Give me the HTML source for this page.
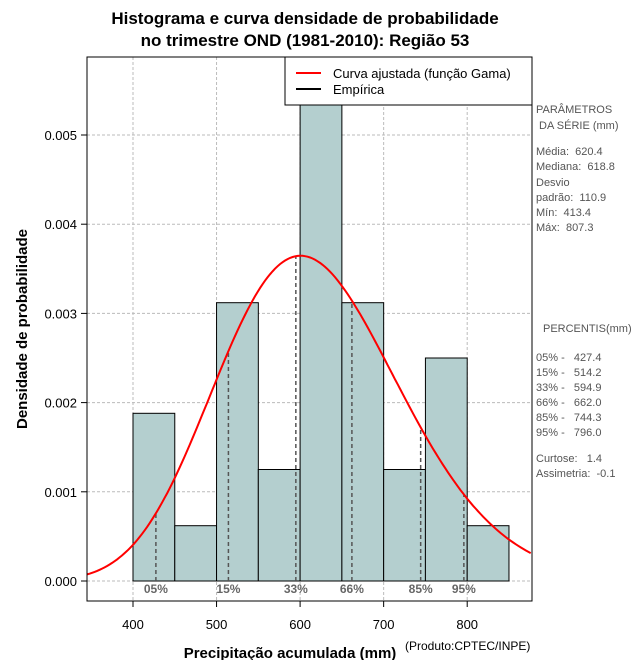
<!DOCTYPE html>
<html><head><meta charset="utf-8"><style>
body{margin:0;background:#fff}
svg{display:block;font-family:"Liberation Sans",sans-serif}
svg text{white-space:pre}
</style></head><body>
<svg id="c" width="640" height="660" xmlns="http://www.w3.org/2000/svg">
<text x="305" y="24" font-size="17" font-weight="bold" text-anchor="middle">Histograma e curva densidade de probabilidade</text>
<text x="305" y="46" font-size="17" font-weight="bold" text-anchor="middle">no trimestre OND (1981-2010): Região 53</text>
<g id="grid"></g><g id="bars"></g><g id="pct"></g><g id="curve"></g><g id="axes"></g>
<rect x="87" y="57" width="445" height="544" fill="none" stroke="#000"/>
<g>
<rect x="285" y="57" width="247" height="48" fill="#fff" stroke="#000"/>
<line x1="296" y1="73" x2="321" y2="73" stroke="red" stroke-width="2"/>
<text x="333" y="78" font-size="13">Curva ajustada (função Gama)</text>
<line x1="296" y1="89" x2="321" y2="89" stroke="#000" stroke-width="2"/>
<text x="333" y="94" font-size="13">Empírica</text>
</g>
<g font-size="11" fill="#555">
<text x="536" y="113">PARÂMETROS</text><text x="536" y="129"> DA SÉRIE (mm)</text>
<text x="536" y="155">Média:  620.4</text><text x="536" y="170">Mediana:  618.8</text>
<text x="536" y="186">Desvio</text><text x="536" y="201">padrão:  110.9</text>
<text x="536" y="216">Mín:  413.4</text><text x="536" y="231">Máx:  807.3</text>
<text x="543" y="332">PERCENTIS(mm)</text>
<text x="536" y="361">05% -   427.4</text><text x="536" y="376">15% -   514.2</text>
<text x="536" y="391">33% -   594.9</text><text x="536" y="406">66% -   662.0</text>
<text x="536" y="421">85% -   744.3</text><text x="536" y="436">95% -   796.0</text>
<text x="536" y="462">Curtose:   1.4</text><text x="536" y="477">Assimetria:  -0.1</text>
</g>
<text x="290" y="658" font-size="15" font-weight="bold" text-anchor="middle">Precipitação acumulada (mm)</text>
<text x="405" y="650" font-size="12">(Produto:CPTEC/INPE)</text>
<text transform="translate(27,329) rotate(-90)" font-size="15" font-weight="bold" text-anchor="middle">Densidade de probabilidade</text>
</svg>
<script>
const binStarts=[400,450,500,550,600,650,700,750,800];
const binDensity=[0.00188,0.00062,0.00312,0.00125,0.00625,0.00312,0.00125,0.0025,0.00062];
const xTicks=[400,500,600,700,800];
const yTicks=[0,0.001,0.002,0.003,0.004,0.005];
const pctValues=[427.4,514.2,594.9,662.0,744.3,796.0];
const pctLabels=["05%","15%","33%","66%","85%","95%"];
const gammaMean=620.4, gammaSd=110.9;
const NS="http://www.w3.org/2000/svg";
const X=v=>133+(v-400)*0.8355, Y=v=>581-v*89200;
const L=87,R=532,T=57,B=601;
function mk(t,a,p){const e=document.createElementNS(NS,t);for(const k in a)e.setAttribute(k,a[k]);p.appendChild(e);return e;}
const g=document.getElementById('grid'),ax=document.getElementById('axes');
xTicks.forEach(v=>{const l=mk('line',{x1:X(v),x2:X(v),y1:T,y2:B,stroke:'#bbb','stroke-dasharray':'3,2'},g);

mk('line',{x1:X(v),x2:X(v),y1:B,y2:B+6,stroke:'#000'},ax);
const t=mk('text',{x:X(v),y:629,'font-size':13,'text-anchor':'middle'},ax);t.textContent=v;
});
yTicks.forEach(v=>{const l=mk('line',{x1:L,x2:R,y1:Y(v),y2:Y(v),stroke:'#bbb','stroke-dasharray':'3,2'},g);

mk('line',{x1:L-6,x2:L,y1:Y(v),y2:Y(v),stroke:'#000'},ax);
const t=mk('text',{x:L-10,y:Y(v)+5,'font-size':13,'text-anchor':'end'},ax);t.textContent=v.toFixed(3);
});
const bg=document.getElementById('bars');
binStarts.forEach((s,i)=>{const top=Math.max(T,Y(binDensity[i]));
const r=mk('rect',{x:X(s),y:top,width:X(s+50)-X(s),height:Y(0)-top,fill:'#b4cfcf',stroke:'#000'},bg);
});
mk('line',{x1:X(400),x2:X(850),y1:Y(0),y2:Y(0),stroke:'#000','stroke-dasharray':'1,2'},bg);
const k=(gammaMean/gammaSd)**2, th=gammaSd*gammaSd/gammaMean;
function lgam(z){const c=[76.18009172947146,-86.50532032941677,24.01409824083091,-1.231739572450155,0.1208650973866179e-2,-0.5395239384953e-5];let x=z,y=z,t=x+5.5;t-=(x+0.5)*Math.log(t);let s=1.000000000190015;for(const q of c)s+=q/++y;return -t+Math.log(2.5066282746310005*s/x);}
const pdf=x=>Math.exp((k-1)*Math.log(x)-x/th-k*Math.log(th)-lgam(k));
const pg=document.getElementById('pct');
pctValues.forEach((v,i)=>{const l=mk('line',{x1:X(v),x2:X(v),y1:Y(0),y2:Y(pdf(v)),stroke:'#555','stroke-width':1.5,'stroke-dasharray':'4,3'},pg);

const t=mk('text',{x:X(v),y:593,'font-size':12,'font-weight':'bold',fill:'#666','text-anchor':'middle'},pg);
t.textContent=pctLabels[i];});
let d='';for(let x=345;x<=878;x+=3){d+=(d?'L':'M')+X(x).toFixed(1)+','+Y(pdf(x)).toFixed(1);}
const p=mk('path',{d:d,fill:'none',stroke:'red','stroke-width':2},document.getElementById('curve'));

</script>
</body></html>
